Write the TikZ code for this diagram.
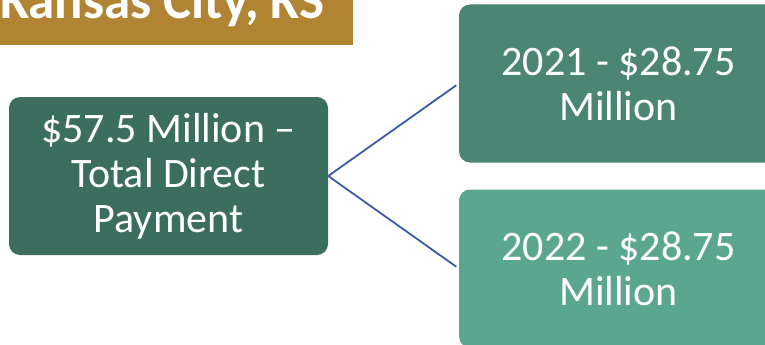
\documentclass[tikz,border=0pt]{standalone}
\usepackage{fontspec}
\setmainfont{Carlito}
\definecolor{gold}{RGB}{176,132,50}
\definecolor{darkgreen}{RGB}{59,110,94}
\definecolor{midgreen}{RGB}{74,134,115}
\definecolor{lightgreen}{RGB}{90,166,142}
\definecolor{connblue}{RGB}{58,92,168}
\begin{document}
\begin{tikzpicture}[x=1pt,y=-1pt,
  box/.style={rounded corners=11pt, minimum width=319pt, minimum height=158pt,
    text=white, align=center, inner sep=0pt, font=\fontsize{42}{45}\selectfont},
  conn/.style={draw=connblue, line width=1.8pt}]
\clip (0,0) rectangle (765,345);
\fill[gold] (0,0) rectangle (353,45);
\node[anchor=base west, inner sep=0pt, text=white,
  font=\fontsize{53}{60}\selectfont\bfseries] (title) at (0,19) {Kansas City, KS};
\node[box, fill=darkgreen] (total) at (168.5,176)
  {\$57.5 Million --\\Total Direct\\Payment};
\node[box, fill=midgreen] (y2021) at (618.5,83.5)
  {2021 - \$28.75\\Million};
\node[box, fill=lightgreen] (y2022) at (618.5,268.5)
  {2022 - \$28.75\\Million};
\draw[conn, shorten >=3pt] (total.east) -- (y2021.west);
\draw[conn, shorten >=3pt] (total.east) -- (y2022.west);
\end{tikzpicture}
\end{document}
